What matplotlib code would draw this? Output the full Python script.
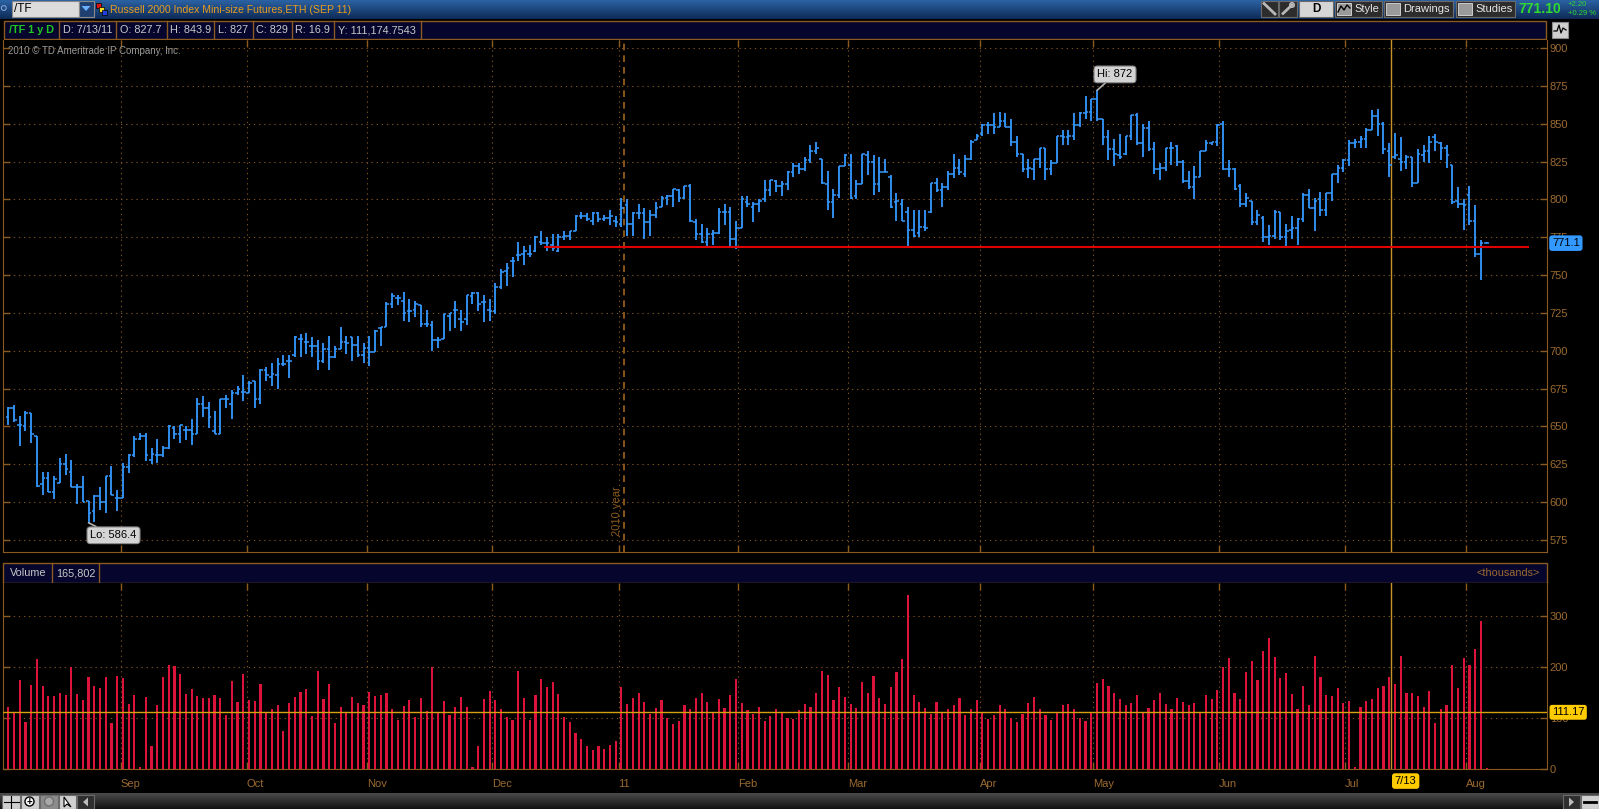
import numpy as np
import matplotlib
matplotlib.use("Agg")
import matplotlib.pyplot as plt
import matplotlib.transforms as mtransforms
from matplotlib.patches import Rectangle, Circle, Polygon
from matplotlib.collections import LineCollection
from matplotlib.colors import LinearSegmentedColormap

plt.rcParams["font.family"] = ["Liberation Sans", "DejaVu Sans"]

# ---- daily bars (/TF, Aug 2010 .. Aug 2011) ----
opens = [
    656, 662, 651, 650, 659, 644, 612, 616, 607, 613,
    625, 620, 610, 610, 601, 594, 604, 600, 617, 603,
    603, 623, 631, 642, 644, 628, 631, 631, 636, 649,
    645, 648, 648, 645, 665, 662, 647, 645, 668, 665,
    672, 673, 672, 680, 668, 687, 683, 684, 691, 693,
    697, 708, 706, 703, 703, 693, 701, 696, 701, 706,
    709, 704, 697, 702, 699, 715, 716, 731, 735, 733,
    726, 727, 730, 718, 717, 707, 708, 723, 727, 721,
    721, 736, 738, 732, 727, 726, 742, 753, 759, 763,
    764, 764, 766, 772, 771, 770, 766, 775, 776, 779,
    789, 789, 786, 791, 787, 788, 786, 784, 796, 784,
    791, 791, 785, 790, 795, 801, 802, 806, 801, 809,
    785, 777, 772, 777, 778, 792, 792, 774, 781, 798,
    795, 797, 800, 806, 812, 809, 810, 818, 822, 820,
    826, 832, 827, 810, 798, 803, 822, 823, 802, 810,
    829, 825, 810, 818, 815, 798, 797, 792, 780, 778,
    782, 792, 811, 806, 808, 817, 821, 817, 827, 839,
    843, 849, 849, 848, 852, 848, 838, 830, 820, 820,
    827, 834, 820, 824, 842, 841, 842, 849, 857, 858,
    866, 853, 841, 833, 829, 830, 842, 856, 837, 847,
    833, 820, 821, 834, 835, 825, 812, 808, 815, 832,
    837, 838, 850, 820, 820, 809, 797, 799, 785, 788,
    775, 776, 792, 775, 780, 781, 787, 803, 794, 800,
    793, 804, 817, 821, 826, 837, 838, 840, 846, 855,
    850, 832, 827.7, 827, 825, 828, 811, 829, 832, 841,
    837, 834, 823, 799, 797, 803, 786, 764, 771.5,
]
highs = [
    663, 664, 657, 660, 659, 644, 620, 620, 617, 629,
    632, 628, 612, 617, 601, 605, 610, 617, 624, 608,
    626, 632, 644, 646, 646, 636, 642, 637, 651, 650,
    651, 650, 655, 669, 670, 666, 660, 668, 671, 674,
    677, 684, 680, 680, 688, 689, 692, 695, 697, 697,
    710, 711, 712, 709, 707, 705, 710, 703, 716, 710,
    709, 710, 705, 710, 714, 716, 732, 738, 737, 739,
    734, 733, 730, 727, 720, 709, 724, 725, 733, 727,
    737, 739, 739, 737, 734, 745, 754, 758, 762, 772,
    769, 770, 776, 779, 775, 777, 777, 779, 779, 790,
    792, 791, 792, 792, 790, 793, 789, 801, 800, 792,
    797, 794, 793, 798, 802, 803, 807, 807, 809, 810,
    787, 784, 781, 780, 794, 797, 795, 786, 802, 802,
    798, 800, 813, 813, 813, 812, 819, 824, 824, 828,
    836, 838, 827, 819, 807, 822, 830, 830, 813, 830,
    832, 829, 828, 827, 816, 804, 800, 795, 793, 793,
    793, 811, 814, 811, 819, 830, 827, 829, 839, 843,
    850, 851, 857, 858, 857, 853, 842, 830, 827, 827,
    834, 834, 826, 842, 846, 846, 857, 858, 868, 866,
    872, 853, 846, 840, 843, 842, 856, 857, 850, 852,
    838, 824, 834, 838, 836, 826, 819, 822, 832, 839,
    838, 850, 852, 826, 821, 810, 804, 799, 793, 789,
    783, 793, 792, 784, 789, 788, 804, 807, 801, 805,
    804, 817, 823, 827, 839, 840, 842, 847, 859, 860,
    851, 837, 843.9, 841, 829, 828, 833, 836, 842, 843,
    838, 836, 823, 808, 800, 809, 796, 773, 772,
]
lows = [
    651, 653, 637, 647, 639, 610, 605, 607, 602, 613,
    618, 610, 599, 600, 586.4, 586.6, 595, 593, 605, 594,
    603, 619, 630, 641, 627, 625, 626, 630, 635, 642,
    639, 641, 638, 645, 656, 649, 645, 645, 662, 655,
    671, 667, 672, 662, 665, 680, 677, 675, 690, 682,
    696, 696, 698, 696, 687, 692, 687, 695, 701, 698,
    693, 696, 692, 690, 699, 703, 716, 728, 730, 720,
    719, 722, 716, 716, 700, 702, 708, 713, 715, 713,
    717, 731, 726, 719, 720, 724, 741, 743, 749, 759,
    757, 762, 765, 770, 766, 766, 765, 773, 773, 779,
    787, 786, 783, 785, 786, 783, 782, 782, 776, 776,
    787, 774, 776, 788, 795, 796, 795, 798, 800, 785,
    773, 771, 769, 770, 777, 783, 769, 767.5, 781, 795,
    785, 792, 798, 802, 805, 802, 806, 815, 817, 819,
    824, 830, 810, 793, 788, 801, 822, 800, 800, 810,
    816, 803, 805, 818, 794, 786, 786, 769.5, 775, 775,
    779, 791, 805, 795, 806, 814, 816, 815, 826, 839,
    842, 843, 843, 848, 848, 835, 828, 818, 814, 813,
    821, 813, 816, 824, 836, 836, 839, 848, 853, 852,
    852, 836, 826, 822, 827, 829, 839, 836, 828, 832,
    817, 813, 819, 823, 822, 811, 807, 800, 815, 832,
    836, 835, 819.5, 815, 806, 795, 795, 783, 783, 772,
    770, 774, 773, 768, 774, 770, 785, 794, 779, 789,
    789, 799, 811, 818, 822, 834, 834, 834, 846, 842,
    830, 815, 827, 819, 820, 808, 811, 825, 824, 832,
    826, 821, 797, 794, 780, 783, 762, 747, 771,
]
closes = [
    662, 654, 651, 659, 645, 611, 616, 607, 615, 625,
    622, 610, 610, 600, 593, 604, 600, 617, 605, 603,
    623, 631, 642, 644, 631, 632, 631, 636, 650, 645,
    651, 648, 645, 665, 662, 656, 645, 668, 668, 672,
    675, 673, 679, 668, 687, 684, 685, 691, 691, 693,
    709, 708, 706, 703, 693, 701, 696, 701, 706, 705,
    704, 697, 702, 699, 713, 716, 731, 736, 735, 725,
    726, 731, 718, 718, 707, 707, 724, 725, 727, 719,
    737, 738, 731, 732, 726, 742, 752, 755, 759, 763,
    766, 764, 775, 771, 771, 768, 775, 776, 779, 789,
    789, 787, 791, 787, 788, 789, 785, 794, 784, 791,
    791, 785, 790, 794, 801, 802, 807, 801, 809, 786,
    777, 772, 777, 778, 792, 792, 774, 781, 800, 797,
    797, 799, 806, 813, 809, 810, 818, 822, 820, 826,
    832, 834, 811, 798, 803, 822, 829, 801, 810, 830,
    825, 810, 818, 818, 795, 799, 786, 780, 776, 782,
    781, 811, 806, 808, 817, 821, 818, 827, 838, 842,
    849, 849, 848, 852, 848, 838, 830, 820, 821, 827,
    834, 820, 824, 842, 841, 842, 849, 857, 858, 866,
    853, 841, 833, 830, 828, 842, 856, 837, 847, 833,
    820, 821, 834, 834, 825, 812, 808, 815, 832, 837,
    838, 849, 820, 820, 807, 797, 801, 785, 790, 775,
    776, 792, 775, 779, 781, 787, 803, 794, 799, 793,
    804, 817, 821, 826, 837, 838, 840, 846, 855, 850,
    833, 823, 829, 825, 828, 811, 830, 832, 838, 838,
    834, 829, 798, 797, 796, 786, 764, 771, 771.1,
]
# volume in thousands
volume = [
    122, 110, 175, 92, 165, 216, 163, 143, 143, 149,
    145, 200, 147, 135, 180, 163, 159, 180, 90, 182,
    178, 127, 145, 4, 141, 45, 125, 180, 204, 202,
    186, 147, 157, 143, 139, 139, 145, 139, 105, 173,
    131, 186, 135, 133, 167, 110, 118, 125, 75, 129,
    141, 151, 157, 104, 192, 137, 167, 90, 122, 110,
    141, 129, 125, 151, 143, 145, 149, 118, 96, 124,
    135, 102, 139, 114, 200, 110, 133, 106, 122, 141,
    122, 3, 45, 137, 153, 135, 118, 102, 96, 192,
    139, 96, 145, 176, 161, 171, 147, 102, 92, 71,
    59, 45, 37, 45, 40, 48, 55,
    160, 128, 140, 150, 132, 108, 120, 135, 100, 88,
    95, 125, 118, 140, 150, 132, 112, 138, 120, 145, 176,
    130, 115, 108, 122, 95, 104, 118, 110, 100, 98,
    115, 128, 122, 150, 192, 184, 135, 160, 142,
    128, 120, 170, 150, 182, 140, 128, 160, 190, 215,
    342, 146, 132, 120, 108, 132, 112, 118, 125, 140, 105, 118, 135,
    112, 98, 105, 125, 118, 100, 92, 108, 130, 142,
    118, 105, 96, 110, 125, 128, 118, 100, 95, 110,
    168, 176, 162, 150, 138, 126, 130, 145, 112, 120,
    135, 150, 128, 118, 140, 132, 125, 130, 110, 145, 138, 155,
    200, 218, 150, 138, 190, 212, 175, 232, 256, 220, 178, 188, 148, 118,
    163, 125, 222, 181, 145, 143, 159, 129, 133, 3,
    121, 133, 137, 159, 163, 180, 165.8, 222, 150, 150,
    143, 122, 153, 91, 118, 125, 204, 159, 218, 204,
    235, 290, 2,
]

# month boundaries on the bar index scale
month_idx = [19.6, 41.6, 62.55, 84.5, 106.5, 127.4, 146.5, 169.5, 189.35, 211.3, 233.3, 254.35]
month_lbl = ["Sep", "Oct", "Nov", "Dec", "11", "Feb", "Mar", "Apr", "May", "Jun", "Jul", "Aug"]
price_ticks = list(range(575, 901, 25))
vol_ticks = [0, 100, 200, 300]
cursor_idx, cursor_lbl = 241.36, "7/13"
year_idx = 107.5
support, support_from, support_to = 768.3, 93.5, 265.4
avg_vol = 111.17
last_price = 771.1

symbol = "/TF"
title = "Russell 2000 Index Mini-size Futures,ETH (SEP 11)"
info = ["/TF 1 y D", "D: 7/13/11", "O: 827.7", "H: 843.9", "L: 827", "C: 829", "R: 16.9", "Y: 111,174.7543"]
vol_info = ["Volume", "165,802"]
quote, chg, chg_pct = "771.10", "+2.20", "+0.29 %"

# ---- palette ----
C = {
    "bar": "#3399ff", "vol": "#dc143c", "axis": "#8b5a1e", "grid": "#7a5020",
    "lbl": "#9c6a30", "navy": "#05052e", "gold": "#c8922a", "avg": "#d6a10a",
    "red": "#e00000", "bubble": "#d4d4d4", "txt": "#c8c8c8", "green": "#2fdc2f",
}

W, H = 1599, 809
X0, X1 = 3, 1547
BAR0, STEP = 8.3, 5.73


def fbox(x0, y0, x1, y1):
    return [x0 / W, 1 - y1 / H, (x1 - x0) / W, (y1 - y0) / H]


def price_at(y):
    return 900 - (y - 48) / 1.514


n = len(closes)
x = np.arange(n)
xlo, xhi = (X0 - BAR0) / STEP, (X1 - BAR0) / STEP

fig = plt.figure(figsize=(W / 100, H / 100), dpi=100, facecolor="black")

# chrome (pixel coordinates, y down)
bg = fig.add_axes([0, 0, 1, 1], zorder=0)
bg.set_facecolor("black")
top_cmap = LinearSegmentedColormap.from_list("tb", ["#2b62a3", "#0e2b57"])
bot_cmap = LinearSegmentedColormap.from_list("bb", ["#4a4a4a", "#121212"])
grad = np.linspace(0, 1, 32).reshape(-1, 1)
bg.imshow(grad, extent=(0, W, 18.5, 0), cmap=top_cmap, aspect="auto")
bg.imshow(grad, extent=(0, W, H, 793), cmap=bot_cmap, aspect="auto")
bg.set_xlim(0, W); bg.set_ylim(H, 0); bg.axis("off")

# top toolbar, left side
bg.add_patch(Circle((3.8, 8), 2.4, fc="none", ec="#7f9fcf", lw=0.8))
bg.add_patch(Rectangle((11.5, 1), 67, 15.5, fc="#dcdcdc", ec="#8a8a8a", lw=0.8))
bg.text(14, 9, symbol, fontsize=8.5, color="black", va="center")
bg.add_patch(Rectangle((78.5, 1), 15.3, 15.5, fc="#1f3f70", ec="#8a8a8a", lw=0.8))
bg.add_patch(Polygon([(81.5, 6), (90.5, 6), (86, 11)], fc="#6ab0ff", ec="none"))
bg.add_patch(Rectangle((96, 3), 5, 5, fc="#e01010", ec="black", lw=0.5))
bg.add_patch(Rectangle((99, 6.5), 5, 5, fc="#f0e020", ec="black", lw=0.5))
bg.add_patch(Rectangle((102, 10), 5, 5, fc="#2040e0", ec="black", lw=0.5))
bg.text(110.2, 10, title, fontsize=7.6, color="#e89c1e", va="center")

# top toolbar, right side
def button(x0, x1, fc="#2c2c2c"):
    bg.add_patch(Rectangle((x0, 0.8), x1 - x0, 16, fc=fc, ec="#6a6a6a", lw=0.8))

button(1261, 1278.3); bg.plot([1264, 1275], [3.5, 14], color="#b8b8b8", lw=2)
button(1279.3, 1296.7); bg.plot([1283, 1292], [13.5, 5], color="#b8b8b8", lw=2)
bg.add_patch(Circle((1292, 5), 2.2, fc="none", ec="#b8b8b8", lw=1.2))
button(1299.3, 1332.7, fc="#d6d6d6")
bg.text(1316, 9, "D", fontsize=8.5, color="black", ha="center", va="center", weight="bold")
for x0, x1, lab in [(1335, 1381.7, "Style"), (1384.3, 1453.3, "Drawings"), (1456, 1515, "Studies")]:
    button(x0, x1)
    bg.add_patch(Rectangle((x0 + 2, 2.5), 14, 12.5, fc="#9a9a9a", ec="#dddddd", lw=0.6))
    bg.text(x0 + 19, 9, lab, fontsize=8, color="#e6e6e6", va="center")
bg.plot([1338, 1341, 1344, 1347, 1350], [12, 6, 10, 5, 8], color="black", lw=1)
bg.text(1540, 9.3, quote, fontsize=10, color=C["green"], weight="bold", ha="center", va="center")
bg.text(1568, 4.5, chg, fontsize=5.5, color=C["green"], va="center")
bg.text(1568, 13.3, chg_pct, fontsize=5.5, color=C["green"], va="center")

# info bar
bg.add_patch(Rectangle((3.8, 20.7), 1542.2, 18.6, fc=C["navy"], ec=C["axis"], lw=1))
edges = [3.8, 59.3, 116, 166.5, 214.3, 252.6, 291.6, 333.7, 421]
for i, t in enumerate(info):
    if i > 0:
        bg.plot([edges[i], edges[i]], [20.7, 39.3], color=C["axis"], lw=1)
    col = "#22c522" if i == 0 else C["txt"]
    bg.text((edges[i] + edges[i + 1]) / 2, 30.2, t, fontsize=7.8, color=col,
            ha="center", va="center", weight="bold" if i == 0 else "normal")
bg.plot([421, 421], [20.7, 39.3], color=C["axis"], lw=1)
bg.add_patch(Rectangle((1552, 21.5), 16, 16, fc="#cfcfcf", ec="#8a8a8a", lw=0.8))
bg.plot([1554, 1557, 1559, 1561, 1563, 1566], [31, 31, 25, 33, 28, 30], color="black", lw=0.9)

# volume header
bg.add_patch(Rectangle((3.3, 563.3), 1543.2, 20, fc=C["navy"], ec=C["axis"], lw=1))
for xe in (52.3, 99.3):
    bg.plot([xe, xe], [563.3, 583.3], color=C["axis"], lw=1)
bg.text(27.8, 573, vol_info[0], fontsize=7.8, color=C["txt"], ha="center", va="center")
bg.text(75.8, 573, vol_info[1], fontsize=7.8, color=C["txt"], ha="center", va="center")
bg.text(1540, 573.3, "<thousands>", fontsize=7.8, color=C["lbl"], ha="right", va="center")

# bottom toolbar buttons
for x0, x1, fc in [(1.7, 20, "#cfcfcf"), (20.7, 39.3, "#cfcfcf"), (40, 58.3, "#8c8c8c"),
                   (59.3, 76, "#cfcfcf"), (77.3, 94, "#2e2e2e"),
                   (1563.3, 1580, "#2e2e2e"), (1581, 1598.5, "#d0d0d0")]:
    bg.add_patch(Rectangle((x0, 795), x1 - x0, 13.5, fc=fc, ec="#6a6a6a", lw=0.8))
bg.plot([3.5, 18.5], [802, 802], color="black", lw=0.8); bg.plot([11, 11], [796, 808], color="black", lw=0.8)
bg.add_patch(Circle((29.5, 801.5), 4.5, fc="white", ec="black", lw=1))
bg.text(29.5, 801.5, "+", fontsize=7, ha="center", va="center", weight="bold")
bg.add_patch(Circle((49, 801.5), 4.5, fc="#a8a8a8", ec="#707070", lw=1))
bg.add_patch(Polygon([(64, 797), (64, 807), (67, 804), (71, 807)], fc="white", ec="black", lw=0.8))
bg.add_patch(Polygon([(88, 797.5), (88, 806.5), (83, 802)], fc="#bbbbbb", ec="none"))
bg.add_patch(Polygon([(1569, 797.5), (1569, 806.5), (1574, 802)], fc="#bbbbbb", ec="none"))
bg.plot([1584, 1596], [802, 802], color="black", lw=2)

# ---- price panel ----
ax = fig.add_axes(fbox(X0, 40, X1, 552), zorder=2)
ax.set_facecolor("black")
ax.set_xlim(xlo, xhi)
ax.set_ylim(price_at(552), price_at(40))
dots = (0, (1.2, 3.4))

ax.set_yticks(price_ticks)
ax.set_xticks(month_idx)
ax.grid(True, color=C["grid"], linestyle=dots, lw=0.8)
ax.tick_params(axis="y", left=True, right=True, labelleft=False, labelright=True,
               direction="in", length=5, width=1, color=C["axis"],
               labelcolor=C["lbl"], labelsize=8, pad=2)
ax.tick_params(axis="x", top=True, bottom=True, labelbottom=False,
               direction="in", length=5, width=1, color=C["axis"])
for sp in ("left", "right", "bottom"):
    ax.spines[sp].set_color(C["axis"])
ax.spines["top"].set_visible(False)

ax.axvline(year_idx, color="#a0641e", lw=1.2, ls=(0, (4, 3)), zorder=1)
ax.text(year_idx - 1.3, price_at(511), "2010 year", rotation=90, fontsize=8,
        color=C["axis"], ha="center", va="center")
ax.axvline(cursor_idx, color=C["gold"], lw=1, zorder=1)

stems = [[(i, l), (i, h)] for i, l, h in zip(x, lows, highs)]
ticks = [[(i - 0.45, o), (i, o)] for i, o in zip(x, opens)]
ticks += [[(i, c), (i + 0.45, c)] for i, c in zip(x, closes)]
ax.add_collection(LineCollection(stems, colors=C["bar"], linewidths=1.3, capstyle="butt", zorder=3))
ax.add_collection(LineCollection(ticks, colors=C["bar"], linewidths=1.1, capstyle="butt", zorder=3))

ax.hlines(support, support_from, support_to, color=C["red"], lw=1.5, zorder=4)

hi_i, lo_i = int(np.argmax(highs)), int(np.argmin(lows))
bub = dict(boxstyle="round,pad=0.3", fc=C["bubble"], ec="#8c8c8c", lw=0.8)
arr = dict(arrowstyle="-", color="#b0b0b0", lw=1.2, shrinkA=0, shrinkB=0)
ax.annotate(f"Hi: {highs[hi_i]:g}", xy=(hi_i, highs[hi_i]), xytext=(18, 16),
            textcoords="offset pixels", ha="center", va="center", fontsize=8,
            color="black", bbox=bub, arrowprops=arr, zorder=6)
ax.annotate(f"Lo: {lows[lo_i]:g}", xy=(lo_i, lows[lo_i]), xytext=(25, -12.5),
            textcoords="offset pixels", ha="center", va="center", fontsize=8,
            color="black", bbox=bub, arrowprops=arr, zorder=6)
ax.text(0.003, 0.978, "2010 \u00a9 TD Ameritrade IP Company, Inc.", transform=ax.transAxes,
        fontsize=7, color="#9a9a9a", ha="left", va="center")

ptrans = mtransforms.blended_transform_factory(ax.transAxes, ax.transData)
ax.text(1 + 5 / 1544, last_price, f"{last_price:.1f}", transform=ptrans, fontsize=8,
        color="black", ha="left", va="center", zorder=7,
        bbox=dict(boxstyle="round,pad=0.25", fc="#3399ff", ec="none"))

# ---- volume panel ----
av = fig.add_axes(fbox(X0, 583.3, X1, 769), zorder=2)
av.set_facecolor("black")
av.set_xlim(xlo, xhi)
av.set_ylim(0, (769 - 583.3) / 0.51)
av.bar(x, volume, width=0.38, color=C["vol"], lw=0, zorder=3)
av.set_yticks(vol_ticks)
av.set_xticks(month_idx)
av.set_xticklabels(month_lbl, ha="left")
av.grid(True, color=C["grid"], linestyle=dots, lw=0.8)
av.tick_params(axis="y", left=True, right=True, labelleft=False, labelright=True,
               direction="in", length=5, width=1, color=C["axis"],
               labelcolor=C["lbl"], labelsize=8, pad=2)
av.tick_params(axis="x", top=True, bottom=True, direction="in", length=5, width=1,
               color=C["axis"], labelcolor=C["lbl"], labelsize=8, pad=7)
for sp in ("left", "right", "bottom"):
    av.spines[sp].set_color(C["axis"])
av.spines["top"].set_visible(False)
av.axvline(cursor_idx, color=C["gold"], lw=1, zorder=4)
av.axhline(avg_vol, color=C["avg"], lw=1, zorder=4)

vtrans = mtransforms.blended_transform_factory(av.transAxes, av.transData)
av.text(1 + 5 / 1544, avg_vol, f"{avg_vol:.2f}", transform=vtrans, fontsize=8,
        color="black", ha="left", va="center", zorder=7,
        bbox=dict(boxstyle="round,pad=0.22", fc="#ffcc00", ec="none"))
ctrans = mtransforms.blended_transform_factory(av.transData, av.transAxes)
av.text(cursor_idx + 3.5 / STEP, -0.065, cursor_lbl, transform=ctrans, fontsize=8,
        color="black", ha="left", va="center", zorder=7,
        bbox=dict(boxstyle="round,pad=0.25", fc="#ffcc00", ec="none"))

fig.savefig("out.png", dpi=100, facecolor="black")
